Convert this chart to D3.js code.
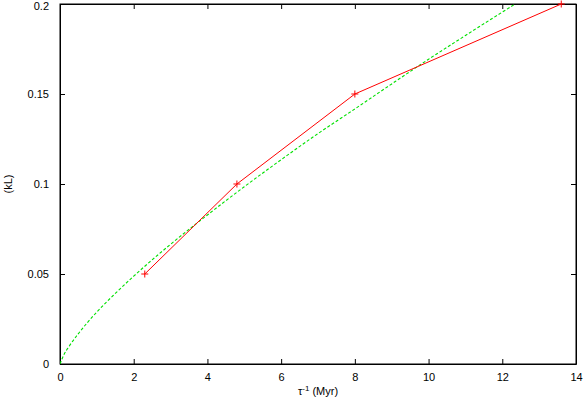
<!DOCTYPE html>
<html>
<head>
<meta charset="utf-8">
<script src="https://cdn.jsdelivr.net/npm/d3@7"></script>
<style>
  body { margin: 0; background: #fff; }
  text { font-family: "Liberation Sans", Arial, Helvetica, sans-serif; font-size: 11px; fill: #000; }
</style>
</head>
<body>
<div id="chart"></div>
<script>
// measured points (red)
var dataX = [2.3, 4.8, 8.0, 13.6]
var dataY = [0.05, 0.10, 0.15, 0.20]

// fitted curve (green dashed)
var fitX = [0, 0.1, 0.25, 0.5, 1, 1.5, 2, 3, 4, 5, 6, 7, 8, 9, 10, 11, 12, 12.35]
var fitY = [0, 0.0049, 0.0099, 0.0169, 0.0289, 0.0392, 0.0488, 0.0665, 0.0828, 0.0985,
  0.1135, 0.1280, 0.1417, 0.1556, 0.1693, 0.1825, 0.1955, 0.2]

var xTicks = [0, 2, 4, 6, 8, 10, 12, 14]
var yTicks = [0, 0.05, 0.1, 0.15, 0.2]

var width = 584
var height = 402
var margin = { top: 4, left: 60, bottom: 38, right: 8 }
var chartWidth = width - margin.left - margin.right
var chartHeight = height - margin.top - margin.bottom
var tickLen = 5

var svg = d3.select('#chart').append('svg')
  .attr('width', width)
  .attr('height', height)

var x = d3.scaleLinear().domain([0, 14]).range([margin.left, margin.left + chartWidth])
var y = d3.scaleLinear().domain([0, 0.2]).range([margin.top + chartHeight, margin.top])

var yFormat = function (d) { return d === 0 ? '0' : String(+d.toFixed(2)) }

// axes with inward ticks, mirrored on top and right
svg.append('g')
  .attr('transform', 'translate(0,' + y(0) + ')')
  .call(d3.axisBottom(x).tickValues(xTicks).tickSizeInner(-tickLen).tickSizeOuter(0).tickPadding(9))
svg.append('g')
  .attr('transform', 'translate(0,' + y(0.2) + ')')
  .call(d3.axisTop(x).tickValues(xTicks).tickSizeInner(-tickLen).tickSizeOuter(0).tickFormat(''))
var yAxis = svg.append('g')
  .attr('transform', 'translate(' + x(0) + ',0)')
  .call(d3.axisLeft(y).tickValues(yTicks).tickSizeInner(-tickLen).tickSizeOuter(0).tickPadding(11).tickFormat(yFormat))
svg.append('g')
  .attr('transform', 'translate(' + x(14) + ',0)')
  .call(d3.axisRight(y).tickValues(yTicks).tickSizeInner(-tickLen).tickSizeOuter(0).tickFormat(''))

svg.selectAll('.domain').attr('stroke', '#000')
svg.selectAll('.tick line').attr('stroke', '#000')
svg.selectAll('.tick text')
  .style('font-family', '"Liberation Sans", Arial, sans-serif')
  .style('font-size', '11px')

// top label sits right at the page edge, nudge it in a little
yAxis.selectAll('.tick text')
  .filter(function (d) { return d === 0.2 })
  .attr('y', 1.5)

svg.append('rect')
  .attr('x', x(0))
  .attr('y', y(0.2))
  .attr('width', x(14) - x(0))
  .attr('height', y(0) - y(0.2))
  .attr('fill', 'none')
  .attr('stroke', '#000')
  .attr('stroke-width', 1)

svg.append('clipPath').attr('id', 'clip')
  .append('rect')
  .attr('x', x(0))
  .attr('y', y(0.2))
  .attr('width', x(14) - x(0))
  .attr('height', y(0) - y(0.2))

// fit curve
var fitLine = d3.line()
  .x(function (d, i) { return x(fitX[i]) })
  .y(function (d) { return y(d) })
  .curve(d3.curveMonotoneX)

svg.append('path')
  .datum(fitY)
  .attr('clip-path', 'url(#clip)')
  .attr('d', fitLine)
  .attr('fill', 'none')
  .attr('stroke', '#00e000')
  .attr('stroke-width', 1.1)
  .attr('stroke-dasharray', '3,2')

// data line
var dataLine = d3.line()
  .x(function (d, i) { return x(dataX[i]) })
  .y(function (d) { return y(d) })

svg.append('path')
  .datum(dataY)
  .attr('d', dataLine)
  .attr('fill', 'none')
  .attr('stroke', '#ff0000')
  .attr('stroke-width', 1)

var pts = svg.append('g')
for (var i = 0; i < dataX.length; i++) {
  var px = x(dataX[i])
  var py = y(dataY[i])
  pts.append('path')
    .attr('d', 'M' + (px - 3.5) + ',' + py + 'H' + (px + 3.5) + 'M' + px + ',' + (py - 3.5) + 'V' + (py + 3.5))
    .attr('stroke', '#ff0000')
    .attr('stroke-width', 1)
}

// axis labels
var xl = svg.append('text')
  .attr('x', 318)
  .attr('y', 395)
  .attr('text-anchor', 'middle')
xl.append('tspan').text('τ')
xl.append('tspan').attr('dy', -4).style('font-size', '8px').text('-1')
xl.append('tspan').attr('dy', 4).text(' (Myr)')

svg.append('text')
  .attr('transform', 'translate(12,' + y(0.1) + ') rotate(-90)')
  .attr('text-anchor', 'middle')
  .text('(kL)')
</script>
</body>
</html>
